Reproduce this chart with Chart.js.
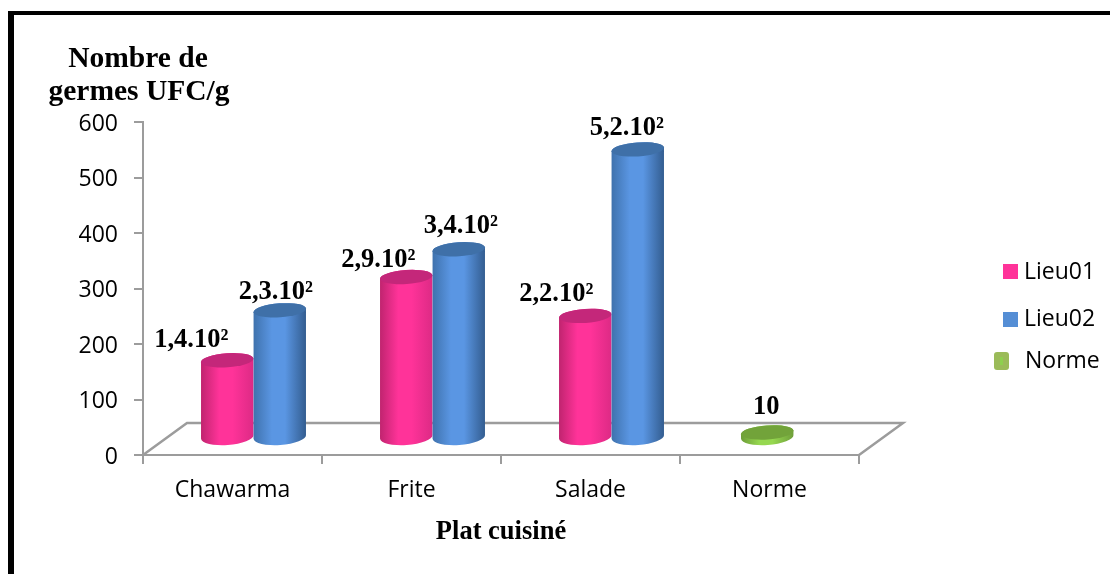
<!DOCTYPE html>
<html>
<head>
<meta charset="utf-8">
<title>Nombre de germes</title>
<script src="https://cdn.jsdelivr.net/npm/chart.js@4"></script>
<style>
    html, body { margin: 0; padding: 0; background: #fff; }
    #wrap { position: relative; width: 1110px; height: 574px; overflow: hidden; }
    #frame {
        position: absolute; left: 8px; top: 11px; right: -10px; bottom: -10px;
        border: solid #000; border-width: 4px 0 0 6px;
    }
    canvas { position: absolute; left: 0; top: 0; }
</style>
</head>
<body>
<div id="wrap">
    <div id="frame"></div>
    <canvas id="germesChart" width="1110" height="574"></canvas>
</div>
<script>
const categories = ['Chawarma', 'Frite', 'Salade', 'Norme'];
const lieu01 = [140, 290, 220, null];
const lieu02 = [230, 340, 520, null];
const norme = [null, null, null, 10];

// Printed above each bar, same order as the values
const lieu01Labels = ['1,4.10²', '2,9.10²', '2,2.10²', null];
const lieu02Labels = ['2,3.10²', '3,4.10²', '5,2.10²', null];
const normeLabels = [null, null, null, '10'];

const yTicks = [0, 100, 200, 300, 400, 500, 600];

// Depth of the floor behind the axes
const DEPTH_X = 44;
const DEPTH_Y = -32;
// Shift from the axis plane to the middle of the floor
const SHIFT_X = 21;
const SHIFT_Y = -17;
const CAP_RY = 7;
const BASE_RY = 8;
const TILT = -0.07;

const AXIS_GREY = '#9c9c9c';
const SANS = '"Open Sans", Lato, sans-serif';
const SERIF = '"Liberation Serif", serif';

// Shades per dataset: left edge, middle, right edge, top cap
const shades = [
    { edges: ['#c0246f', '#ff3399', '#dd2a85'], cap: '#c4277a', nudgeX: 0 },
    { edges: ['#3f72ad', '#5a96e3', '#335d90'], cap: '#3f70a8', nudgeX: 0 },
    { edges: ['#6c9c38', '#96d850', '#6f9f3a'], cap: '#72a33a', nudgeX: 3 }
];

// Label offsets from the bar top, per dataset and category
const labelNudges = [
    [[-36, -20], [-28, -17], [-29, -22], [0, 0]],
    [[-4, -18], [2, -23], [-11, -21], [0, 0]],
    [[0, 0], [0, 0], [0, 0], [2, -25]]
];

const legendRows = [
    { box: [1003, 264, 15, 15], textX: 1024, textY: 272 },
    { box: [1003, 312, 15, 15], textX: 1024, textY: 319 },
    { box: [994, 352, 15, 18], textX: 1025, textY: 361 }
];

function drawCylinder(ctx, bar, shade) {
    const cx = bar.x + SHIFT_X + shade.nudgeX;
    const rx = bar.width / 2;
    const top = bar.y + SHIFT_Y;
    const bottom = bar.base + SHIFT_Y;

    const grad = ctx.createLinearGradient(cx - rx, 0, cx + rx, 0);
    grad.addColorStop(0, shade.edges[0]);
    grad.addColorStop(0.35, shade.edges[1]);
    grad.addColorStop(0.6, shade.edges[1]);
    grad.addColorStop(1, shade.edges[2]);

    ctx.beginPath();
    ctx.ellipse(cx, bottom, rx, BASE_RY, TILT, 0, Math.PI);
    ctx.ellipse(cx, top, rx, CAP_RY, TILT, Math.PI, Math.PI * 2);
    ctx.closePath();
    ctx.fillStyle = grad;
    ctx.fill();

    ctx.beginPath();
    ctx.ellipse(cx, top, rx, CAP_RY, TILT, 0, Math.PI * 2);
    ctx.fillStyle = shade.cap;
    ctx.fill();
}

const cylinderPlugin = {
    id: 'cylinders',
    // The flat rectangles are replaced by the cylinders below
    beforeDatasetDraw() {
        return false;
    },
    beforeDatasetsDraw(chart) {
        const { ctx, chartArea: area } = chart;
        ctx.save();
        ctx.strokeStyle = AXIS_GREY;
        ctx.lineWidth = 2.5;
        ctx.beginPath();
        ctx.moveTo(area.left, area.bottom);
        ctx.lineTo(area.left + DEPTH_X, area.bottom + DEPTH_Y);
        ctx.lineTo(area.right + DEPTH_X, area.bottom + DEPTH_Y);
        ctx.lineTo(area.right, area.bottom);
        ctx.stroke();
        ctx.restore();
    },
    afterDatasetsDraw(chart) {
        const { ctx } = chart;
        ctx.save();
        chart.data.datasets.forEach((dataset, i) => {
            chart.getDatasetMeta(i).data.forEach((bar, j) => {
                if (dataset.data[j] === null) return;
                drawCylinder(ctx, bar, shades[i]);
            });
        });

        ctx.fillStyle = '#000';
        ctx.font = 'bold 26.5px ' + SERIF;
        ctx.textAlign = 'center';
        ctx.textBaseline = 'middle';
        chart.data.datasets.forEach((dataset, i) => {
            chart.getDatasetMeta(i).data.forEach((bar, j) => {
                const text = dataset.valueLabels[j];
                if (!text) return;
                const [nx, ny] = labelNudges[i][j];
                ctx.fillText(text, bar.x + SHIFT_X + nx, bar.y + SHIFT_Y + ny);
            });
        });
        ctx.restore();
    },
    afterDraw(chart) {
        const { ctx } = chart;
        ctx.save();

        // Y axis heading
        ctx.fillStyle = '#000';
        ctx.font = 'bold 29.5px ' + SERIF;
        ctx.textAlign = 'center';
        ctx.textBaseline = 'middle';
        ctx.fillText('Nombre de', 138, 59);
        ctx.fillText('germes UFC/g', 139, 92);

        // Legend
        ctx.font = '23px ' + SANS;
        ctx.textAlign = 'left';
        chart.data.datasets.forEach((dataset, i) => {
            const row = legendRows[i];
            ctx.fillStyle = dataset.backgroundColor;
            ctx.beginPath();
            ctx.roundRect(...row.box, i === 2 ? 3 : 0);
            ctx.fill();
            if (i === 2) {
                ctx.fillStyle = '#8ed04e';
                ctx.fillRect(row.box[0] + 6, row.box[1] + 5, 3, 8);
            }
            ctx.fillStyle = '#000';
            ctx.fillText(dataset.label, row.textX, row.textY);
        });
        ctx.restore();
    }
};

new Chart(document.getElementById('germesChart'), {
    type: 'bar',
    data: {
        labels: categories,
        datasets: [
            { label: 'Lieu01', data: lieu01, valueLabels: lieu01Labels, backgroundColor: '#ff3399', stack: 'a' },
            { label: 'Lieu02', data: lieu02, valueLabels: lieu02Labels, backgroundColor: '#558ed5', stack: 'b' },
            // shares the first slot of its category
            { label: 'Norme', data: norme, valueLabels: normeLabels, backgroundColor: '#9bbb59', stack: 'a' }
        ]
    },
    options: {
        responsive: false,
        animation: false,
        categoryPercentage: 0.587,
        barPercentage: 1,
        layout: {
            padding: { top: 122, right: 251, bottom: 0, left: 0 }
        },
        plugins: {
            legend: { display: false },
            title: { display: false },
            tooltip: { enabled: false }
        },
        scales: {
            x: {
                afterFit(axis) { axis.height = 119; },
                grid: {
                    drawOnChartArea: false,
                    color: AXIS_GREY,
                    lineWidth: 2,
                    tickLength: 9,
                    offset: true
                },
                border: { color: AXIS_GREY, width: 2 },
                ticks: {
                    color: '#000',
                    padding: 13,
                    maxRotation: 0,
                    font: { family: SANS, size: 23 }
                },
                title: {
                    display: true,
                    text: 'Plat cuisiné',
                    color: '#000',
                    padding: { top: 0, bottom: 26 },
                    font: { family: SERIF, size: 26.5, weight: 'bold' }
                }
            },
            y: {
                min: 0,
                max: 600,
                afterFit(axis) { axis.width = 143; },
                afterBuildTicks(axis) {
                    axis.ticks = yTicks.map(value => ({ value }));
                },
                grid: {
                    drawOnChartArea: false,
                    color: AXIS_GREY,
                    lineWidth: 2,
                    tickLength: 9
                },
                border: { color: AXIS_GREY, width: 2 },
                ticks: {
                    color: '#000',
                    padding: 16,
                    labelOffset: 2,
                    font: { family: SANS, size: 23 }
                }
            }
        }
    },
    plugins: [cylinderPlugin]
});
</script>
</body>
</html>
